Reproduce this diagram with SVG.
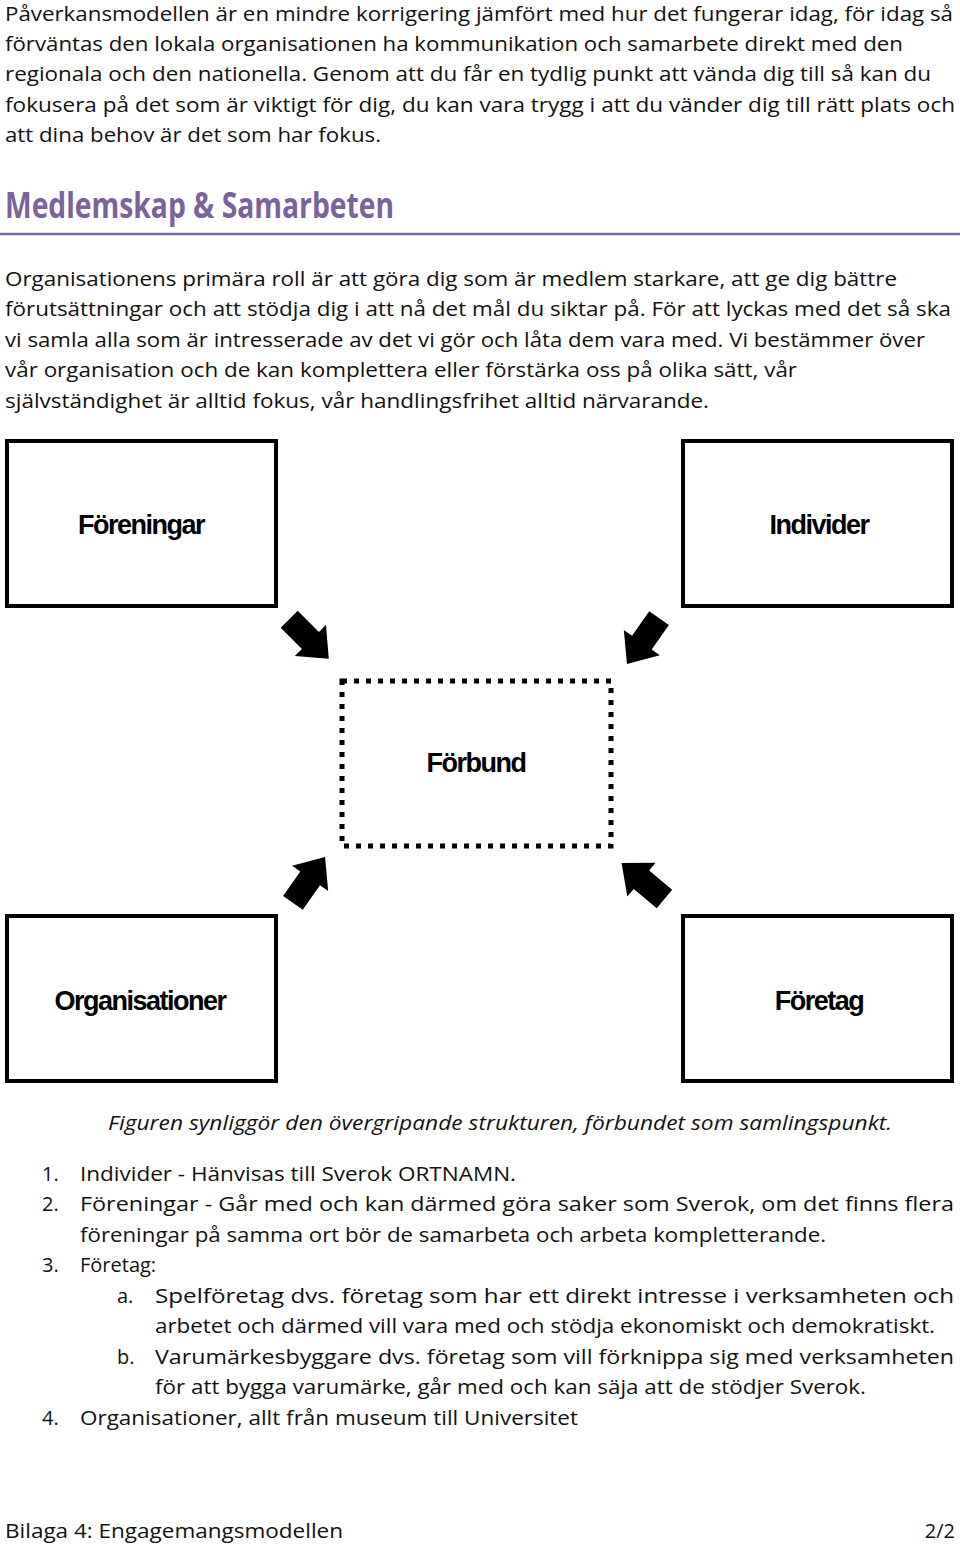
<svg xmlns="http://www.w3.org/2000/svg" width="960" height="1547" viewBox="0 0 960 1547">
<style>
.t{font-family:"Open Sans","Noto Sans",sans-serif;font-size:20px;fill:#111}
.h{font-family:"Open Sans","Noto Sans",sans-serif;font-size:36px;font-weight:bold;fill:#7a6399}
.lb{font-family:"Liberation Sans",Arial,sans-serif;font-size:27px;font-weight:bold;fill:#000;text-anchor:middle;letter-spacing:-1.5px}
.box{fill:#fff;stroke:#000;stroke-width:4}
.cap{font-style:italic}
</style>
<defs><path id="arr" d="M-28,-12 L2,-12 L2,-22 L28,0 L2,22 L2,12 L-28,12 Z" fill="#000"/></defs>
<text class="t" x="5" y="21" textLength="948" lengthAdjust="spacingAndGlyphs">Påverkansmodellen är en mindre korrigering jämfört med hur det fungerar idag, för idag så</text>
<text class="t" x="5" y="51" textLength="898" lengthAdjust="spacingAndGlyphs">förväntas den lokala organisationen ha kommunikation och samarbete direkt med den</text>
<text class="t" x="5" y="81" textLength="926" lengthAdjust="spacingAndGlyphs">regionala och den nationella. Genom att du får en tydlig punkt att vända dig till så kan du</text>
<text class="t" x="5" y="112" textLength="950" lengthAdjust="spacingAndGlyphs">fokusera på det som är viktigt för dig, du kan vara trygg i att du vänder dig till rätt plats och</text>
<text class="t" x="5" y="142" textLength="376" lengthAdjust="spacingAndGlyphs">att dina behov är det som har fokus.</text>
<text class="h" x="5" y="218" textLength="389" lengthAdjust="spacingAndGlyphs">Medlemskap &amp; Samarbeten</text>
<line x1="0" y1="234" x2="960" y2="234" stroke="#7a6399" stroke-width="2.5"/>
<text class="t" x="5" y="286" textLength="892" lengthAdjust="spacingAndGlyphs">Organisationens primära roll är att göra dig som är medlem starkare, att ge dig bättre</text>
<text class="t" x="5" y="316" textLength="946" lengthAdjust="spacingAndGlyphs">förutsättningar och att stödja dig i att nå det mål du siktar på. För att lyckas med det så ska</text>
<text class="t" x="5" y="347" textLength="920" lengthAdjust="spacingAndGlyphs">vi samla alla som är intresserade av det vi gör och låta dem vara med. Vi bestämmer över</text>
<text class="t" x="5" y="377" textLength="792" lengthAdjust="spacingAndGlyphs">vår organisation och de kan komplettera eller förstärka oss på olika sätt, vår</text>
<text class="t" x="5" y="408" textLength="704" lengthAdjust="spacingAndGlyphs">självständighet är alltid fokus, vår handlingsfrihet alltid närvarande.</text>
<g id="foreningar"><rect class="box" x="7" y="441" width="269" height="165"/><text class="lb" x="141" y="534">Föreningar</text></g>
<g id="individer"><rect class="box" x="683" y="441" width="269" height="165"/><text class="lb" x="819" y="534">Individer</text></g>
<g id="forbund"><rect x="342" y="681" width="269" height="165" fill="none" stroke="#000" stroke-width="5" stroke-dasharray="5,7"/><text class="lb" x="476" y="772">Förbund</text></g>
<g id="organisationer"><rect class="box" x="7" y="916" width="269" height="165"/><text class="lb" x="140" y="1010">Organisationer</text></g>
<g id="foretag"><rect class="box" x="683" y="916" width="269" height="165"/><text class="lb" x="819" y="1010">Företag</text></g>
<g id="connectors">
<use href="#arr" transform="translate(309,639) rotate(45)"/>
<use href="#arr" transform="translate(643,641) rotate(125)"/>
<use href="#arr" transform="translate(309,880) rotate(-55)"/>
<use href="#arr" transform="translate(643,881) rotate(-140)"/>
</g>
<text class="t cap" x="108" y="1130" textLength="784" lengthAdjust="spacingAndGlyphs">Figuren synliggör den övergripande strukturen, förbundet som samlingspunkt.</text>
<g class="t">
<text x="42" y="1181">1.</text><text x="80" y="1181" textLength="436" lengthAdjust="spacingAndGlyphs">Individer - Hänvisas till Sverok ORTNAMN.</text>
<text x="42" y="1211">2.</text><text x="80" y="1211" textLength="874" lengthAdjust="spacingAndGlyphs">Föreningar - Går med och kan därmed göra saker som Sverok, om det finns flera</text>
<text x="80" y="1242" textLength="746" lengthAdjust="spacingAndGlyphs">föreningar på samma ort bör de samarbeta och arbeta kompletterande.</text>
<text x="42" y="1272">3.</text><text x="80" y="1272">Företag:</text>
<text x="117" y="1303">a.</text><text x="155" y="1303" textLength="799" lengthAdjust="spacingAndGlyphs">Spelföretag dvs. företag som har ett direkt intresse i verksamheten och</text>
<text x="155" y="1333" textLength="780" lengthAdjust="spacingAndGlyphs">arbetet och därmed vill vara med och stödja ekonomiskt och demokratiskt.</text>
<text x="117" y="1364">b.</text><text x="155" y="1364" textLength="799" lengthAdjust="spacingAndGlyphs">Varumärkesbyggare dvs. företag som vill förknippa sig med verksamheten</text>
<text x="155" y="1394" textLength="711" lengthAdjust="spacingAndGlyphs">för att bygga varumärke, går med och kan säja att de stödjer Sverok.</text>
<text x="42" y="1425">4.</text><text x="80" y="1425" textLength="498" lengthAdjust="spacingAndGlyphs">Organisationer, allt från museum till Universitet</text>
<text x="5" y="1538" textLength="338" lengthAdjust="spacingAndGlyphs">Bilaga 4: Engagemangsmodellen</text>
<text x="955" y="1538" text-anchor="end">2/2</text>
</g>
</svg>
